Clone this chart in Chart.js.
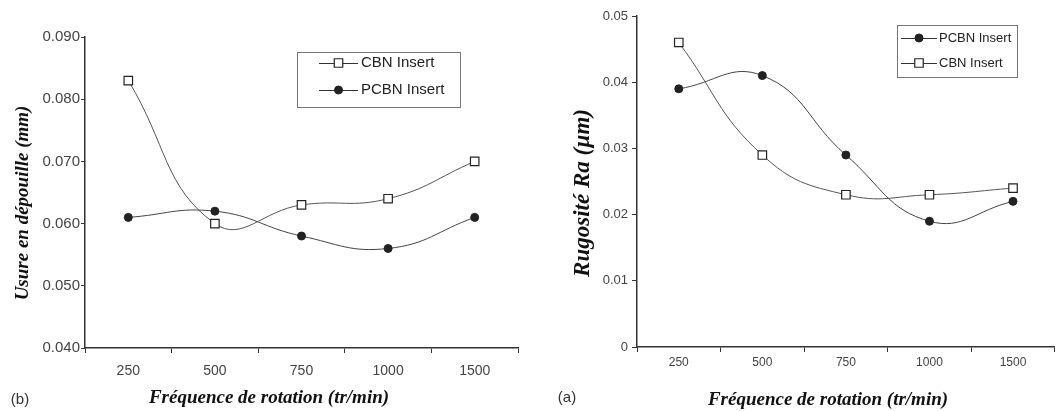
<!DOCTYPE html>
<html>
<head>
<meta charset="utf-8">
<script src="https://cdn.jsdelivr.net/npm/chart.js@4"></script>
<style>
    body { margin: 0; background: #fff; width: 1062px; height: 411px; position: relative; overflow: hidden; }
    .box { position: absolute; top: 0; height: 411px; }
</style>
</head>
<body>
<div class="box" style="left:0;width:530px"><canvas id="wearChart"></canvas></div>
<div class="box" style="left:530px;width:532px"><canvas id="roughChart"></canvas></div>
<script>
(function () {
    // データ
    const speeds = ['250', '500', '750', '1000', '1500'];

    const wearCBN = [0.083, 0.060, 0.063, 0.064, 0.070];
    const wearPCBN = [0.061, 0.062, 0.058, 0.056, 0.061];
    const wearTicks = [0.040, 0.050, 0.060, 0.070, 0.080, 0.090];

    const roughPCBN = [0.039, 0.041, 0.029, 0.019, 0.022];
    const roughCBN = [0.046, 0.029, 0.023, 0.023, 0.024];
    const roughTicks = [0, 0.01, 0.02, 0.03, 0.04, 0.05];

    const sans = 'Liberation Sans, Arial, sans-serif';
    const serif = 'Liberation Serif, Times New Roman, serif';

    // 系列スタイル
    const cbnStyle = {
        borderColor: '#555',
        borderWidth: 1,
        pointStyle: 'rect',
        pointRadius: 6,
        pointBackgroundColor: '#fff',
        pointBorderColor: '#222',
        pointBorderWidth: 1.2,
        tension: 0.45,
        fill: false,
    };
    const pcbnStyle = {
        borderColor: '#444',
        borderWidth: 1,
        pointStyle: 'circle',
        pointRadius: 4,
        pointBackgroundColor: '#222',
        pointBorderColor: '#222',
        pointBorderWidth: 1,
        tension: 0.45,
        fill: false,
    };

    // 凡例・注記の描画
    const annotate = {
        id: 'annotate',
        afterDraw(chart, args, opts) {
            const ctx = chart.ctx;
            ctx.save();
            // 凡例の枠
            const b = opts.box;
            ctx.strokeStyle = '#777';
            ctx.lineWidth = 1;
            ctx.strokeRect(b.x + 0.5, b.y + 0.5, b.w, b.h);
            ctx.font = opts.legendFont;
            ctx.textBaseline = 'middle';
            ctx.textAlign = 'left';
            opts.rows.forEach((r) => {
                const ds = chart.data.datasets[r.index];
                ctx.strokeStyle = '#333';
                ctx.lineWidth = 1;
                ctx.beginPath();
                ctx.moveTo(b.lineX0, r.y + 0.5);
                ctx.lineTo(b.lineX1, r.y + 0.5);
                ctx.stroke();
                const mx = (b.lineX0 + b.lineX1) / 2;
                ctx.lineWidth = ds.pointBorderWidth;
                ctx.strokeStyle = ds.pointBorderColor;
                ctx.fillStyle = ds.pointBackgroundColor;
                ctx.beginPath();
                if (ds.pointStyle === 'rect') {
                    const s = ds.pointRadius * Math.SQRT1_2;
                    ctx.rect(mx - s, r.y - s, 2 * s, 2 * s);
                } else {
                    ctx.arc(mx, r.y, ds.pointRadius, 0, Math.PI * 2);
                }
                ctx.fill();
                ctx.stroke();
                ctx.fillStyle = '#222';
                ctx.fillText(ds.label, b.textX, r.y);
            });
            // 軸タイトル
            ctx.fillStyle = '#111';
            ctx.font = opts.titleFont;
            ctx.textAlign = 'center';
            ctx.fillText(opts.xTitle.text, opts.xTitle.x, opts.xTitle.y);
            ctx.save();
            ctx.translate(opts.yTitle.x, opts.yTitle.y);
            ctx.rotate(-Math.PI / 2);
            ctx.font = opts.yTitle.font || opts.titleFont;
            ctx.fillText(opts.yTitle.text, 0, 0);
            ctx.restore();
            // (a) / (b)
            ctx.font = '15px ' + sans;
            ctx.fillStyle = '#333';
            ctx.fillText(opts.tag.text, opts.tag.x, opts.tag.y);
            ctx.restore();
        },
    };

    function makeChart(id, cfg) {
        const ctx = document.getElementById(id).getContext('2d');
        return new Chart(ctx, {
            type: 'line',
            data: {
                labels: speeds,
                datasets: cfg.datasets,
            },
            options: {
                responsive: true,
                maintainAspectRatio: false,
                animation: false,
                layout: { padding: cfg.padding },
                plugins: {
                    legend: { display: false },
                    tooltip: { enabled: false },
                    annotate: cfg.annotate,
                },
                scales: {
                    x: {
                        offset: true,
                        grid: {
                            offset: true,
                            drawOnChartArea: false,
                            drawTicks: true,
                            tickLength: 5,
                            color: '#333',
                        },
                        border: { display: true, color: '#333', width: 1.5 },
                        ticks: {
                            color: '#444',
                            font: { family: sans, size: cfg.xTickSize },
                            padding: cfg.xTickPad,
                            maxRotation: 0,
                        },
                        afterFit: (s) => { s.height = cfg.xHeight; },
                    },
                    y: {
                        min: cfg.ticks[0],
                        max: cfg.ticks[cfg.ticks.length - 1],
                        afterBuildTicks: (s) => { s.ticks = cfg.ticks.map((v) => ({ value: v })); },
                        grid: {
                            drawOnChartArea: false,
                            drawTicks: true,
                            tickLength: cfg.yTickLen,
                            color: '#333',
                        },
                        border: { display: true, color: '#333', width: 1.5 },
                        ticks: {
                            color: '#444',
                            font: { family: sans, size: cfg.yTickSize },
                            padding: cfg.yTickPad,
                            callback: cfg.fmt,
                        },
                        afterFit: (s) => { s.width = cfg.yWidth; },
                    },
                },
            },
            plugins: [annotate],
        });
    }

    // (b) 逃げ面摩耗
    makeChart('wearChart', {
        datasets: [
            Object.assign({ label: 'CBN Insert', data: wearCBN }, cbnStyle),
            Object.assign({ label: 'PCBN Insert', data: wearPCBN }, pcbnStyle),
        ],
        ticks: wearTicks,
        fmt: (v) => v.toFixed(3),
        padding: { left: 0, top: 37, right: 12, bottom: 0 },
        xHeight: 63,
        yWidth: 85,
        xTickSize: 14,
        xTickPad: 10,
        yTickSize: 15,
        yTickPad: 1,
        yTickLen: 4,
        annotate: {
            box: { x: 297, y: 52, w: 163, h: 55, lineX0: 319, lineX1: 358, textX: 361 },
            rows: [{ index: 0, y: 63 }, { index: 1, y: 90 }],
            legendFont: '15px ' + sans,
            titleFont: 'italic bold 19px ' + serif,
            xTitle: { text: 'Fréquence de rotation (tr/min)', x: 269, y: 398 },
            yTitle: { text: 'Usure en dépouille (mm)', x: 23, y: 203 },
            tag: { text: '(b)', x: 20, y: 400 },
        },
    });

    // (a) 表面粗さ
    makeChart('roughChart', {
        datasets: [
            Object.assign({ label: 'PCBN Insert', data: roughPCBN }, pcbnStyle),
            Object.assign({ label: 'CBN Insert', data: roughCBN }, cbnStyle),
        ],
        ticks: roughTicks,
        fmt: (v) => (v === 0 ? '0' : v.toFixed(2)),
        padding: { left: 0, top: 16, right: 0, bottom: 0 },
        xHeight: 64,
        yWidth: 107,
        xTickSize: 12,
        xTickPad: 3,
        yTickSize: 13,
        yTickPad: 4,
        yTickLen: 5,
        annotate: {
            box: { x: 367, y: 25, w: 120, h: 52, lineX0: 371, lineX1: 407, textX: 409 },
            rows: [{ index: 0, y: 38 }, { index: 1, y: 63 }],
            legendFont: '13px ' + sans,
            titleFont: 'italic bold 19px ' + serif,
            xTitle: { text: 'Fréquence de rotation (tr/min)', x: 298, y: 400 },
            yTitle: { text: 'Rugosité Ra (µm)', x: 53, y: 193, font: 'italic bold 23px ' + serif },
            tag: { text: '(a)', x: 37, y: 398 },
        },
    });
})();
</script>
</body>
</html>
